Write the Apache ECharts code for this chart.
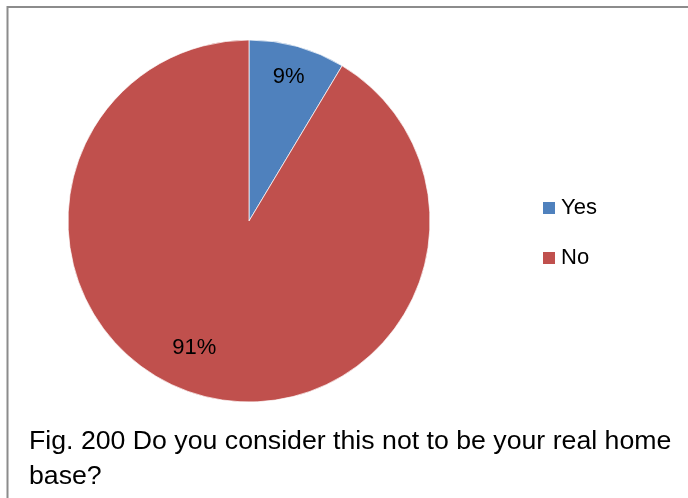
<!DOCTYPE html>
<html>
<head>
<meta charset="utf-8">
<script src="https://cdn.jsdelivr.net/npm/echarts@6/dist/echarts.min.js"></script>
<style>html,body{margin:0;padding:0;background:#fff}#c{width:688px;height:498px}</style>
</head>
<body>
<div id="c"></div>
<script>
const categories = ['Yes', 'No'];
const values = [8.6, 91.4];
const colors = ['#4F81BD', '#C0504D'];
const captionText = 'Fig. 200 Do you consider this not to be your real home\nbase?';

const FONT = '"Liberation Sans", Arial, sans-serif';
const chart = echarts.init(document.getElementById('c'), null, {renderer: 'canvas'});
const pieData = categories.map((n, i) => ({name: n, value: values[i], itemStyle: {color: colors[i]}}));
const labelData = categories.map((n, i) => ({name: n, value: values[i]}));

chart.setOption({
  animation: false,
  backgroundColor: '#fff',
  title: {
    text: captionText,
    left: 24, top: 419,
    textStyle: {fontFamily: FONT, fontSize: 26.7, fontWeight: 'normal', color: '#000', lineHeight: 35}
  },
  legend: {
    orient: 'vertical',
    left: 536, top: 191,
    itemWidth: 14, itemHeight: 14, itemGap: 26,
    icon: 'rect',
    data: categories.map((n, i) => ({name: n, itemStyle: {color: colors[i]}})),
    textStyle: {fontFamily: FONT, fontSize: 22, color: '#000', lineHeight: 24}
  },
  graphic: [{
    type: 'polyline',
    shape: {points: [[7.5, 498], [7.5, 7], [688, 7]]},
    style: {stroke: '#8c8c8c', lineWidth: 2, fill: null},
    silent: true
  }],
  series: [{
    type: 'pie',
    center: [249, 221],
    radius: [0, 181],
    startAngle: 90,
    clockwise: true,
    data: pieData,
    label: {show: false},
    labelLine: {show: false},
    itemStyle: {borderColor: '#fff', borderWidth: 0.7},
    silent: true
  }, {
    type: 'pie',
    center: [249, 221],
    radius: [100, 192],
    startAngle: 90,
    clockwise: true,
    data: labelData,
    itemStyle: {color: 'rgba(0,0,0,0)'},
    label: {
      show: true, position: 'inside',
      formatter: p => Math.round(p.percent) + '%',
      fontFamily: FONT, fontSize: 22, color: '#000'
    },
    labelLine: {show: false},
    labelLayout: p => p.dataIndex === 1 ? {dx: -15, dy: -17} : {dy: 0},
    silent: true
  }]
});
</script>
</body>
</html>
